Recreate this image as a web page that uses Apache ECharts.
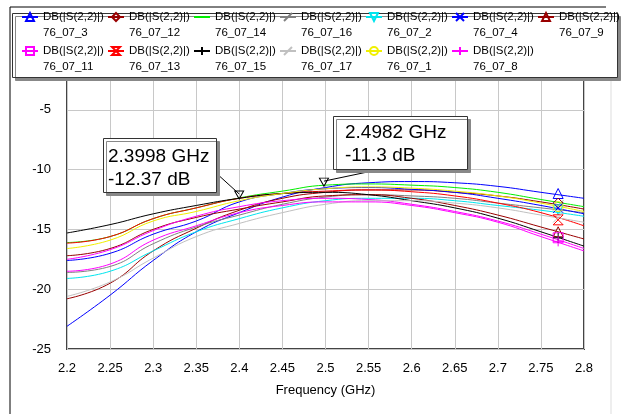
<!DOCTYPE html>
<html>
<head>
<meta charset="utf-8">
<script src="https://cdn.jsdelivr.net/npm/echarts@6/dist/echarts.min.js"></script>
<style>
  html, body { margin: 0; padding: 0; background: #fff; }
  #main { width: 622px; height: 414px; }
</style>
</head>
<body>
<div id="main"></div>
<script>
// frequency points (GHz)
var freqs = [2.2, 2.25, 2.3, 2.35, 2.4, 2.45, 2.5, 2.55, 2.6, 2.65, 2.7, 2.75, 2.8];

// DB(|S(2,2)|) per sample
var s_76_07_3  = [-23.1, -20.5, -17.6, -15.2, -13.6, -12.3, -11.5, -11.1, -11.0, -11.1, -11.4, -11.9, -12.4];
var s_76_07_12 = [-20.8, -19.5, -16.8, -14.9, -13.4, -12.4, -11.9, -11.7, -11.7, -11.9, -12.2, -12.7, -13.3];
var s_76_07_14 = [-16.1, -15.6, -14.1, -13.2, -12.37, -11.8, -11.3, -11.2, -11.3, -11.5, -11.9, -12.5, -13.1];
var s_76_07_16 = [-18.6, -18.1, -16.2, -14.8, -13.8, -12.9, -12.3, -12.1, -12.2, -12.4, -12.8, -13.2, -13.6];
var s_76_07_2  = [-19.1, -18.5, -16.8, -15.2, -14.1, -13.2, -12.6, -12.4, -12.4, -12.6, -13.0, -13.4, -13.9];
var s_76_07_4  = [-17.6, -17.0, -15.4, -14.3, -12.7, -12.0, -11.6, -11.5, -11.65, -11.9, -12.4, -13.0, -13.7];
var s_76_07_9  = [-17.2, -16.6, -15.0, -14.0, -13.3, -12.7, -12.2, -12.1, -12.4, -13.0, -13.8, -14.8, -15.8];
var s_76_07_11 = [-17.5, -16.7, -15.1, -13.9, -13.1, -12.6, -12.4, -12.5, -12.9, -13.5, -14.3, -15.4, -16.6];
var s_76_07_13 = [-16.15, -15.6, -14.1, -13.2, -12.4, -12.0, -11.8, -11.7, -11.85, -12.2, -12.8, -13.6, -14.7];
var s_76_07_15 = [-15.3, -14.6, -13.7, -13.0, -12.4, -12.0, -11.9, -12.1, -12.6, -13.2, -14.06, -15.2, -16.4];
var s_76_07_17 = [-20.6, -19.4, -17.4, -15.6, -14.5, -13.6, -12.9, -12.6, -12.6, -12.8, -13.2, -13.8, -14.4];
var s_76_07_1  = [-16.6, -15.9, -14.3, -13.5, -12.6, -12.0, -11.6, -11.45, -11.55, -11.8, -12.2, -12.8, -13.5];
var s_76_07_8  = [-18.5, -17.9, -15.9, -14.7, -13.6, -13.0, -12.7, -12.7, -13.0, -13.6, -14.4, -15.6, -16.8];

// trace markers sit at 2.77 GHz
var markerFreq = 2.77;
var markerVals = {
  '76_07_3': -12.0, '76_07_12': -12.8, '76_07_16': -13.0, '76_07_2': -13.37, '76_07_4': -13.2,
  '76_07_9': -15.2, '76_07_11': -15.7, '76_07_13': -14.2, '76_07_15': -15.7, '76_07_17': -14.0,
  '76_07_1': -13.1, '76_07_8': -16.0
};

// marker readouts
var readouts = [
  { f: 2.3998, db: -12.37 },
  { f: 2.4982, db: -11.3 }
];

var xTicks = { min: 2.2, max: 2.8, step: 0.05 };
var yTicks = { min: -25, max: 0, step: 5 };

var row1 = ['76_07_3', '76_07_12', '76_07_14', '76_07_16', '76_07_2', '76_07_4', '76_07_9'];
var row2 = ['76_07_11', '76_07_13', '76_07_15', '76_07_17', '76_07_1', '76_07_8'];

var SYM = {
  triUp: 'triangle',
  triDown: 'path://M0,0 L10,0 L5,10 Z',
  diamond: 'diamond',
  slash: 'path://M0,10 L10,0',
  cross: 'path://M0,0 L10,10 M10,0 L0,10',
  rect: 'rect',
  hourglass: 'path://M0,0 L10,0 L0,10 L10,10 Z',
  plus: 'path://M5,0 L5,10 M0,5 L10,5',
  circle: 'circle'
};

// green trace has no marker: invisible rect keeps the legend icon a plain line
var traces = [
  { name: '76_07_3',  data: s_76_07_3,  color: '#0000ff', sym: SYM.triUp },
  { name: '76_07_12', data: s_76_07_12, color: '#990000', sym: SYM.diamond },
  { name: '76_07_14', data: s_76_07_14, color: '#00ee00', sym: SYM.rect, symColor: 'rgba(0,0,0,0)' },
  { name: '76_07_16', data: s_76_07_16, color: '#808080', sym: SYM.slash },
  { name: '76_07_2',  data: s_76_07_2,  color: '#00e5ee', sym: SYM.triDown },
  { name: '76_07_4',  data: s_76_07_4,  color: '#0000ff', sym: SYM.cross },
  { name: '76_07_9',  data: s_76_07_9,  color: '#990000', sym: SYM.triUp },
  { name: '76_07_11', data: s_76_07_11, color: '#ff00ff', sym: SYM.rect },
  { name: '76_07_13', data: s_76_07_13, color: '#ff0000', sym: SYM.hourglass },
  { name: '76_07_15', data: s_76_07_15, color: '#000000', sym: SYM.plus },
  { name: '76_07_17', data: s_76_07_17, color: '#c0c0c0', sym: SYM.slash },
  { name: '76_07_1',  data: s_76_07_1,  color: '#f0f000', sym: SYM.circle },
  { name: '76_07_8',  data: s_76_07_8,  color: '#ff00ff', sym: SYM.plus }
];

var FONT = 'Liberation Sans, Arial, sans-serif';

var series = traces.map(function (t) {
  var sc = t.symColor || t.color;
  var s = {
    name: t.name,
    type: 'line',
    smooth: true,
    symbol: t.sym,
    symbolSize: 9,
    showSymbol: false,
    lineStyle: { color: t.color, width: 1 },
    itemStyle: { color: 'rgba(255,255,255,0)', borderColor: sc, borderWidth: 1 },
    data: freqs.map(function (f, i) { return [f, t.data[i]]; }),
    z: 3
  };
  if (markerVals[t.name] !== undefined) {
    s.markPoint = {
      symbol: t.sym,
      symbolSize: 10,
      itemStyle: { color: 'rgba(255,255,255,0)', borderColor: t.color, borderWidth: 1 },
      label: { show: false },
      data: [{ coord: [markerFreq, markerVals[t.name]] }]
    };
  }
  return s;
});

// readout triangles on the green trace
series[2].markPoint = {
  symbol: SYM.triDown,
  symbolSize: [9, 8],
  symbolOffset: [0, -3],
  itemStyle: { color: 'rgba(255,255,255,0)', borderColor: '#000', borderWidth: 1 },
  label: { show: false },
  data: readouts.map(function (r) { return { coord: [r.f, r.db] }; })
};

function legendOf(names, top) {
  return {
    data: names,
    left: 21,
    top: top,
    padding: 0,
    orient: 'horizontal',
    itemWidth: 16,
    itemHeight: 10,
    itemGap: 1,
    z: 20,
    selectedMode: false,
    formatter: function (n) { return '\nDB(|S(2,2)|)\n' + n; },
    textStyle: { fontFamily: FONT, fontSize: 11.5, color: '#000', lineHeight: 16, width: 63, overflow: 'none' }
  };
}

var chart = echarts.init(document.getElementById('main'));
chart.setOption({
  animation: false,
  backgroundColor: '#fff',
  grid: { left: 67, right: 38, top: 50, bottom: 65, show: true, borderColor: '#444', borderWidth: 2 },
  legend: [legendOf(row1, -7), legendOf(row2, 27)],
  xAxis: {
    type: 'value',
    min: xTicks.min, max: xTicks.max, interval: xTicks.step,
    name: 'Frequency (GHz)', nameLocation: 'middle', nameGap: 35,
    nameTextStyle: { fontFamily: FONT, fontSize: 13, color: '#000' },
    axisLine: { show: false }, axisTick: { show: false },
    axisLabel: { fontFamily: FONT, fontSize: 13, color: '#000', margin: 13,
      formatter: function (v) { return String(parseFloat(v.toFixed(3))); } },
    splitLine: { lineStyle: { color: '#c8c8c8', width: 1 } }
  },
  yAxis: {
    type: 'value',
    min: yTicks.min, max: yTicks.max, interval: yTicks.step,
    axisLine: { show: false }, axisTick: { show: false },
    axisLabel: { fontFamily: FONT, fontSize: 13, color: '#000', margin: 16 },
    splitLine: { lineStyle: { color: '#c8c8c8', width: 1 } }
  },
  series: series
});

// frame, legend box and readout callouts
var p1 = chart.convertToPixel({ gridIndex: 0 }, [readouts[0].f, readouts[0].db]);
var p2 = chart.convertToPixel({ gridIndex: 0 }, [readouts[1].f, readouts[1].db]);
var boxStyle = { fill: '#fff', stroke: '#333', lineWidth: 1, shadowColor: '#888', shadowOffsetX: 3, shadowOffsetY: 3, shadowBlur: 0 };
var txt = { fontFamily: FONT, fontSize: 19, fill: '#000', lineHeight: 23 };

chart.setOption({
  graphic: [
    { type: 'polyline', z: 10, shape: { points: [[10, 420], [10, 7], [606, 7]] }, style: { stroke: '#000', lineWidth: 1, fill: null } },
    { type: 'line', z: 10, shape: { x1: 611, y1: 80, x2: 611, y2: 414 }, style: { stroke: '#ddd', lineWidth: 1 } },
    { type: 'rect', z: 15, shape: { x: 12.5, y: 13.5, width: 605, height: 64 }, style: boxStyle },
    { type: 'line', z: 11, shape: { x1: 215, y1: 172, x2: p1[0], y2: p1[1] - 4 }, style: { stroke: '#000', lineWidth: 1 } },
    { type: 'rect', z: 12, shape: { x: 103.5, y: 138.5, width: 113, height: 54 }, style: boxStyle },
    { type: 'text', z: 13, x: 108, y: 145, style: Object.assign({ text: '2.3998 GHz\n-12.37 dB' }, txt) },
    { type: 'line', z: 11, shape: { x1: 377, y1: 170, x2: p2[0], y2: p2[1] - 4 }, style: { stroke: '#000', lineWidth: 1 } },
    { type: 'rect', z: 12, shape: { x: 333.5, y: 116.5, width: 134, height: 53 }, style: boxStyle },
    { type: 'text', z: 13, x: 345, y: 121, style: Object.assign({ text: '2.4982 GHz\n-11.3 dB' }, txt) }
  ]
});
</script>
</body>
</html>
